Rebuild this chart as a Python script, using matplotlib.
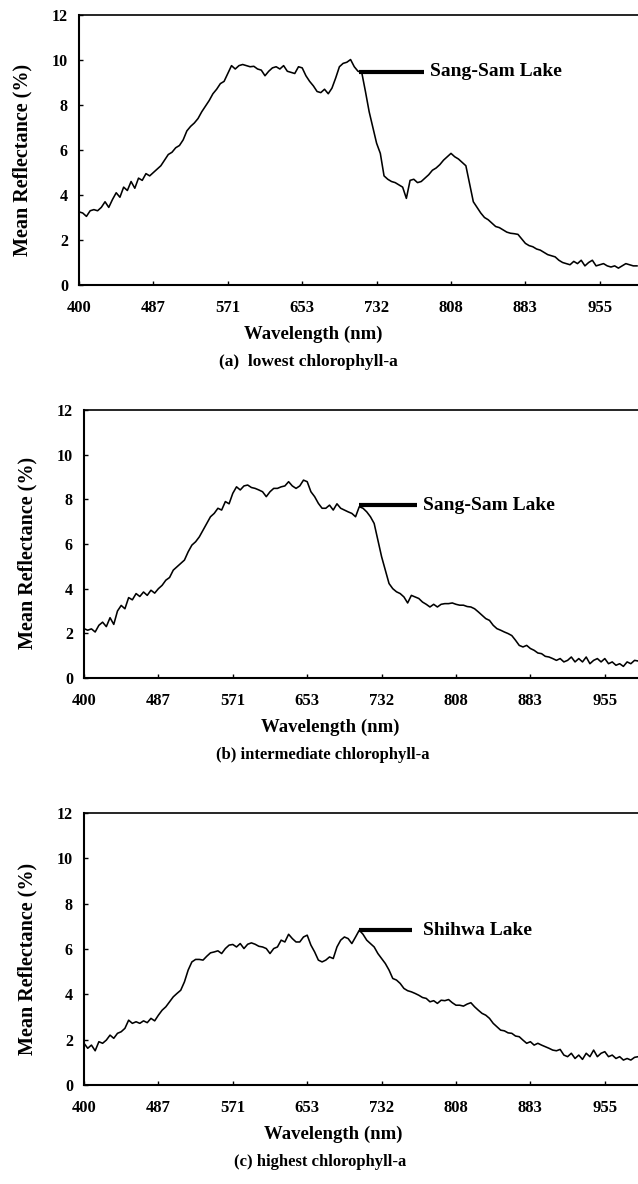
import numpy as np
import matplotlib
matplotlib.use("Agg")
import matplotlib.pyplot as plt

plt.rcParams["font.family"] = ["Liberation Serif", "DejaVu Serif"]
plt.rcParams["font.weight"] = "bold"

# x axis: evenly spaced band ticks labelled with wavelength (nm)
tick_labels = ["400", "487", "571", "653", "732", "808", "883", "955"]
tick_pos = np.arange(len(tick_labels))

# band position (in tick units), sampled every 0.05
band_pos = np.round(np.arange(0, 7.5001, 0.05), 2)

# (a) lowest chlorophyll-a, Sang-Sam Lake
refl_a = [
    3.25, 3.2, 3.05, 3.3, 3.35, 3.3, 3.45, 3.7, 3.45, 3.8,
    4.1, 3.9, 4.35, 4.2, 4.6, 4.3, 4.75, 4.65, 4.95, 4.85,
    5.0, 5.15, 5.3, 5.55, 5.8, 5.9, 6.1, 6.2, 6.45, 6.85,
    7.05, 7.2, 7.4, 7.7, 7.95, 8.2, 8.5, 8.7, 8.95, 9.05,
    9.4, 9.75, 9.6, 9.75, 9.8, 9.75, 9.7, 9.72, 9.6, 9.55,
    9.3, 9.5, 9.65, 9.7, 9.6, 9.75, 9.5, 9.45, 9.4, 9.7,
    9.65, 9.3, 9.05, 8.85, 8.6, 8.55, 8.7, 8.5, 8.75, 9.2,
    9.7, 9.85, 9.9, 10.02, 9.7, 9.5, 9.45, 8.6, 7.7, 7.0,
    6.3, 5.85, 4.85, 4.7, 4.6, 4.55, 4.45, 4.35, 3.85, 4.65,
    4.7, 4.55, 4.6, 4.75, 4.9, 5.1, 5.2, 5.35, 5.55, 5.7,
    5.85, 5.7, 5.6, 5.45, 5.3, 4.5, 3.7, 3.45, 3.2, 3.0,
    2.9, 2.75, 2.6, 2.55, 2.45, 2.35, 2.3, 2.28, 2.25, 2.05,
    1.85, 1.75, 1.7, 1.6, 1.55, 1.45, 1.35, 1.3, 1.25, 1.1,
    1.0, 0.95, 0.9, 1.05, 0.95, 1.1, 0.85, 1.0, 1.1, 0.85,
    0.9, 0.95, 0.85, 0.8, 0.85, 0.75, 0.85, 0.95, 0.9, 0.85,
    0.85,
]

# (b) intermediate chlorophyll-a, Sang-Sam Lake
refl_b = [
    2.21, 2.14, 2.2, 2.06, 2.36, 2.5, 2.3, 2.7, 2.4, 3.0,
    3.25, 3.1, 3.6, 3.5, 3.78, 3.65, 3.85, 3.7, 3.93, 3.8,
    4.0, 4.15, 4.38, 4.5, 4.83, 4.98, 5.13, 5.28, 5.65, 5.95,
    6.1, 6.32, 6.62, 6.92, 7.22, 7.37, 7.6, 7.52, 7.9, 7.8,
    8.27, 8.56, 8.42, 8.6, 8.64, 8.53, 8.49, 8.42, 8.34, 8.12,
    8.34, 8.49, 8.49, 8.56, 8.6, 8.79, 8.6, 8.49, 8.6, 8.86,
    8.79, 8.34, 8.12, 7.82, 7.6, 7.6, 7.74, 7.52, 7.8, 7.6,
    7.52, 7.44, 7.37, 7.22, 7.67, 7.6, 7.44, 7.22, 6.92, 6.17,
    5.43, 4.83, 4.23, 4.0, 3.86, 3.78, 3.63, 3.36, 3.7, 3.63,
    3.56, 3.4, 3.3, 3.18, 3.3, 3.18, 3.3, 3.33, 3.33, 3.36,
    3.3, 3.26, 3.26, 3.2, 3.18, 3.1, 2.96, 2.81, 2.66, 2.58,
    2.36, 2.21, 2.14, 2.06, 1.99, 1.9, 1.69, 1.46, 1.39, 1.46,
    1.32, 1.24, 1.12, 1.09, 0.97, 0.94, 0.87, 0.79, 0.87, 0.72,
    0.79, 0.94, 0.72, 0.87, 0.72, 0.94, 0.64, 0.79, 0.87, 0.72,
    0.87, 0.64, 0.72, 0.57, 0.64, 0.52, 0.72, 0.64, 0.79, 0.76,
    0.79,
]

# (c) highest chlorophyll-a, Shihwa Lake
refl_c = [
    1.84, 1.62, 1.76, 1.51, 1.91, 1.84, 1.98, 2.2, 2.06, 2.28,
    2.35, 2.5, 2.86, 2.72, 2.79, 2.72, 2.83, 2.75, 2.94, 2.83,
    3.08, 3.3, 3.45, 3.67, 3.89, 4.04, 4.18, 4.55, 5.07, 5.43,
    5.54, 5.54, 5.51, 5.68, 5.83, 5.87, 5.92, 5.8, 6.02, 6.17,
    6.2, 6.09, 6.24, 6.02, 6.21, 6.27, 6.21, 6.12, 6.09, 6.02,
    5.8, 6.02, 6.09, 6.39, 6.31, 6.65, 6.46, 6.31, 6.31, 6.53,
    6.61, 6.17, 5.87, 5.51, 5.43, 5.51, 5.65, 5.58, 6.09, 6.39,
    6.53, 6.46, 6.24, 6.53, 6.83, 6.65, 6.39, 6.24, 6.09, 5.8,
    5.58, 5.36, 5.07, 4.7, 4.63, 4.48, 4.26, 4.16, 4.11, 4.04,
    3.96, 3.86, 3.82, 3.67, 3.72, 3.6, 3.74, 3.72, 3.77, 3.63,
    3.52, 3.52, 3.48, 3.57, 3.63, 3.45, 3.3, 3.16, 3.08, 2.94,
    2.72, 2.57, 2.42, 2.39, 2.3, 2.28, 2.16, 2.13, 1.98, 1.84,
    1.91, 1.76, 1.84, 1.76, 1.69, 1.62, 1.54, 1.51, 1.57, 1.32,
    1.25, 1.4, 1.17, 1.32, 1.13, 1.4, 1.25, 1.54, 1.25, 1.4,
    1.47, 1.25, 1.32, 1.17, 1.25, 1.1, 1.17, 1.1, 1.22, 1.25,
    1.32,
]

lake_names = ["Sang-Sam Lake", "Sang-Sam Lake", "Shihwa Lake"]
captions = ["(a)  lowest chlorophyll-a",
            "(b) intermediate chlorophyll-a",
            "(c) highest chlorophyll-a"]
# where the label leader starts/ends (band position) and its height
leader_x0 = [3.77, 3.7, 3.7]
leader_x1 = [4.64, 4.47, 4.41]
leader_y = [9.48, 7.74, 6.83]
label_x = [4.72, 4.55, 4.55]

series = [refl_a, refl_b, refl_c]

W, H = 638, 1184
fig = plt.figure(figsize=(W / 100, H / 100), dpi=100)

unit_px = 74.4
# left px, top px (y=12), bottom px (y=0)
boxes = [(79, 15, 285), (84, 410, 678), (84, 813, 1085)]
# centres (px) of the x label and the caption under each panel
xlabel_cx = [313, 330, 333]
caption_cx = [308, 323, 320]
caption_size = [12.5, 12, 12]
xmax = 7.75
ax_w = xmax * unit_px

for i, (left, top, bottom) in enumerate(boxes):
    ax_h = bottom - top
    ax = fig.add_axes([left / W, 1 - bottom / H, ax_w / W, ax_h / H])
    ax.plot(band_pos, series[i], color="black", linewidth=1.15)
    ax.set_xlim(0, xmax)
    ax.set_ylim(0, 12)
    ax.set_xticks(tick_pos)
    ax.set_xticklabels(tick_labels)
    ax.set_yticks(np.arange(0, 13, 2))
    ax.tick_params(direction="in", length=3, width=1.0)
    ax.tick_params(axis="x", labelsize=12, pad=11)
    ax.tick_params(axis="y", labelsize=11.5, pad=8)
    for lab in ax.get_xticklabels() + ax.get_yticklabels():
        lab.set_fontweight("bold")
    ax.spines["left"].set_linewidth(1.5)
    ax.spines["bottom"].set_linewidth(1.5)
    ax.spines["top"].set_linewidth(1.2)
    ax.spines["right"].set_visible(False)

    ax.plot([leader_x0[i], leader_x1[i]], [leader_y[i], leader_y[i]],
            color="black", linewidth=3.0, solid_capstyle="butt")
    ax.text(label_x[i], leader_y[i], lake_names[i], fontsize=14,
            fontweight="bold", va="center", ha="left")

    ax.set_ylabel("Mean Reflectance (%)", fontsize=14.5, fontweight="bold")
    ax.yaxis.set_label_coords(-47 / ax_w, 0.465)
    ax.set_xlabel("Wavelength (nm)", fontsize=13.5, fontweight="bold")
    ax.xaxis.set_label_coords((xlabel_cx[i] - left) / ax_w, -41 / ax_h)

    fig.text(caption_cx[i] / W, 1 - (bottom + 77) / H, captions[i],
             fontsize=caption_size[i], fontweight="bold",
             ha="center", va="center")

fig.savefig("out.png", dpi=100)
